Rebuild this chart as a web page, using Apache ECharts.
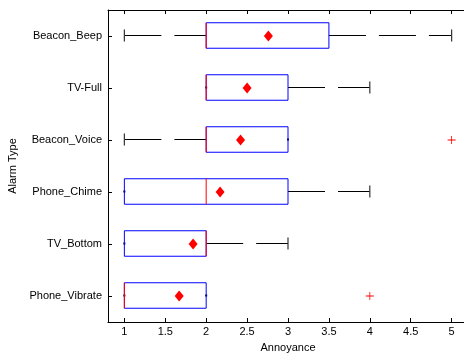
<!DOCTYPE html>
<html>
<head>
<meta charset="utf-8">
<script src="https://cdn.jsdelivr.net/npm/echarts@6/dist/echarts.min.js"></script>
<style>
  html, body { margin: 0; padding: 0; background: #fff; }
  #chart { width: 464px; height: 353px; }
</style>
</head>
<body>
<div id="chart"></div>
<script>
// bottom to top, as the category axis draws them
const categories = ['Phone_Vibrate', 'TV_Bottom', 'Phone_Chime', 'Beacon_Voice', 'TV-Full', 'Beacon_Beep']
const whiskerLow = [1, 1, 1, 1, 2, 1]
const q1 = [1, 1, 1, 2, 2, 2]
const medians = [1, 2, 2, 2, 2, 2]
const q3 = [2, 2, 3, 3, 3, 3.5]
const whiskerHigh = [2, 3, 4, 3, 4, 5]
const means = [1.67, 1.84, 2.17, 2.42, 2.5, 2.76]
const outliers = [[4, 'Phone_Vibrate'], [5, 'Beacon_Voice']]
const xTicks = [1, 1.5, 2, 2.5, 3, 3.5, 4, 4.5, 5]

const font = { fontFamily: 'Liberation Sans, Arial, sans-serif', fontSize: 11, color: '#000' }

const boxData = categories.map((c, i) => [i, whiskerLow[i], q1[i], medians[i], q3[i], whiskerHigh[i]])
const meanData = categories.map((c, i) => [means[i], c])

function renderBox(params, api) {
  const idx = api.value(0)
  const lo = api.coord([api.value(1), idx])
  const b1 = api.coord([api.value(2), idx])
  const md = api.coord([api.value(3), idx])
  const b3 = api.coord([api.value(4), idx])
  const hi = api.coord([api.value(5), idx])
  const band = api.size([0, 1])[1]
  const h = band * 0.245
  const cy = Math.round(lo[1]) - 0.5
  const children = []

  // whisker: dashed line drawn left to right, cap at outer end
  function whisker(x0, x1, capX) {
    if (x1 - x0 < 0.5) {
      children.push({ type: 'rect', shape: { x: capX - 1, y: cy - 1, width: 2, height: 2 }, style: { fill: '#000' } })
      return
    }
    children.push({
      type: 'line',
      shape: { x1: x0, y1: cy, x2: x1, y2: cy },
      style: { stroke: '#000', lineWidth: 1, lineDash: [37, 13] }
    })
    children.push({
      type: 'line',
      shape: { x1: capX, y1: cy - 6, x2: capX, y2: cy + 6 },
      style: { stroke: '#333', lineWidth: 1.2 }
    })
  }
  whisker(lo[0], b1[0], lo[0])
  whisker(b3[0], hi[0], hi[0])

  children.push({
    type: 'rect',
    shape: { x: b1[0], y: cy - h, width: b3[0] - b1[0], height: 2 * h },
    style: { stroke: '#0000ff', fill: null, lineWidth: 1 }
  })
  children.push({
    type: 'line',
    shape: { x1: md[0], y1: cy - h, x2: md[0], y2: cy + h },
    style: { stroke: '#ff0000', lineWidth: 1 }
  })
  return { type: 'group', children: children }
}

const myChart = echarts.init(document.getElementById('chart'))

const xBase = {
  type: 'value',
  min: 0.8,
  max: 5.2,
  splitLine: { show: false },
  axisLine: { show: true, lineStyle: { color: '#000', width: 1 } },
  axisTick: { show: true, inside: true, length: 4, lineStyle: { color: '#000' }, customValues: xTicks }
}
const yBase = {
  type: 'category',
  data: categories,
  splitLine: { show: false },
  axisLine: { show: true, lineStyle: { color: '#000', width: 1 } },
  axisTick: { show: true, inside: true, length: 4, alignWithLabel: true, lineStyle: { color: '#000' } }
}

const options = {
  animation: false,
  grid: { left: 108, top: 10, right: -4, bottom: 31, containLabel: false, outerBoundsMode: 'none' },
  xAxis: [
    Object.assign({}, xBase, {
      position: 'bottom',
      name: 'Annoyance',
      nameLocation: 'middle',
      nameGap: 20,
      nameTextStyle: font,
      axisLabel: Object.assign({ margin: 4, customValues: xTicks }, font)
    }),
    Object.assign({}, xBase, { position: 'top', axisLabel: { show: false } })
  ],
  yAxis: [
    Object.assign({}, yBase, {
      position: 'left',
      name: 'Alarm Type',
      nameLocation: 'middle',
      nameGap: 88,
      nameRotate: 90,
      nameTextStyle: font,
      axisLabel: Object.assign({ margin: 6 }, font)
    }),
    Object.assign({}, yBase, { position: 'right', axisLabel: { show: false } })
  ],
  series: [
    {
      type: 'custom',
      renderItem: renderBox,
      encode: { x: [1, 2, 3, 4, 5], y: 0 },
      data: boxData,
      z: 2
    },
    {
      type: 'scatter',
      data: meanData,
      symbol: 'diamond',
      symbolSize: [9, 11],
      itemStyle: { color: '#ff0000', opacity: 1 },
      z: 3
    },
    {
      type: 'scatter',
      data: outliers,
      symbol: 'path://M4.5,0H5.5V4.5H10V5.5H5.5V10H4.5V5.5H0V4.5H4.5Z',
      symbolSize: 8,
      itemStyle: { color: '#ff0000', opacity: 1 },
      z: 3
    }
  ]
}
myChart.setOption(options)
</script>
</body>
</html>
